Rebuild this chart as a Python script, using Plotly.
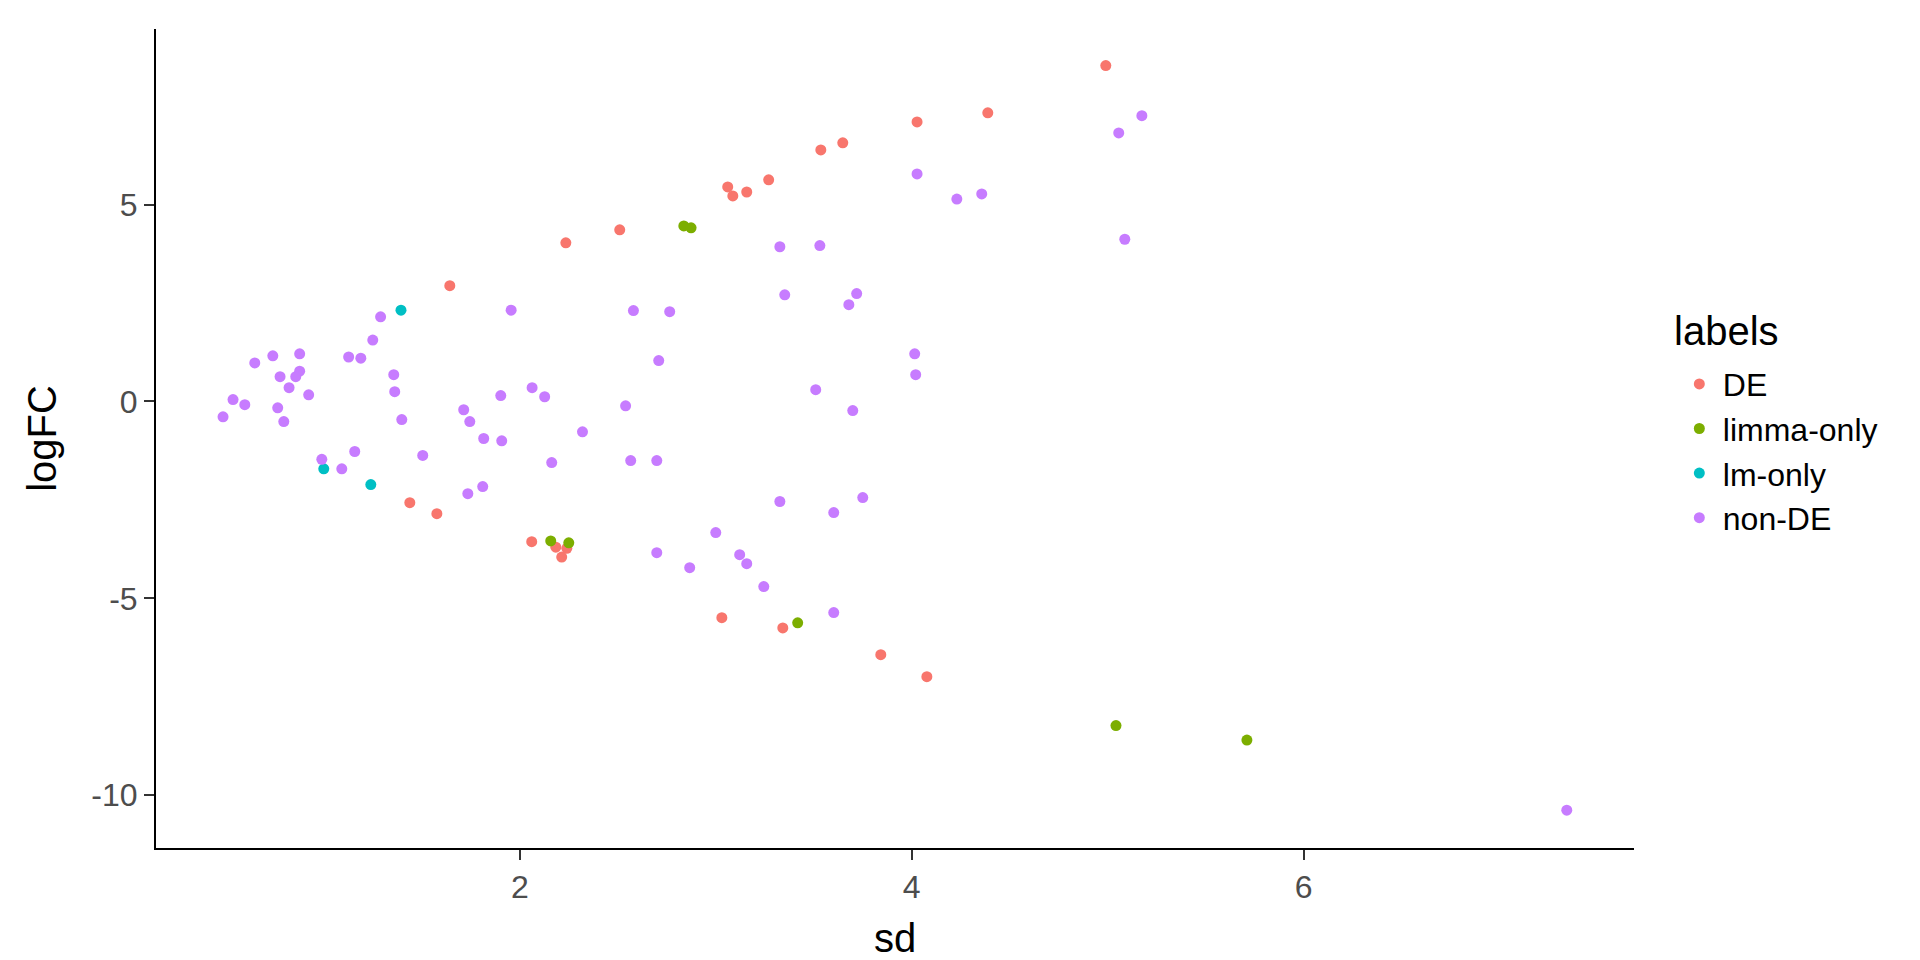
import plotly.graph_objects as go

# ---- data ----
categories = ["DE", "limma-only", "lm-only", "non-DE"]
colors = ["#F8766D", "#7CAE00", "#00BFC4", "#C77CFF"]

de_sd = [2.51, 2.235, 1.643, 4.99, 4.388, 4.027, 3.648, 3.536, 3.27, 3.061, 3.087, 3.158,
         1.439, 1.577, 2.061, 2.184, 2.24, 2.214, 3.031, 3.342, 3.842, 4.077]
de_logfc = [4.36, 4.03, 2.94, 8.53, 7.33, 7.10, 6.57, 6.39, 5.63, 5.45, 5.22, 5.32,
            -2.57, -2.85, -3.56, -3.70, -3.73, -3.95, -5.49, -5.75, -6.43, -6.99]

limma_sd = [2.837, 2.874, 2.158, 2.25, 3.418, 5.042, 5.71]
limma_logfc = [4.46, 4.41, -3.54, -3.59, -5.62, -8.23, -8.60]

lm_sd = [1.394, 1.0, 1.24]
lm_logfc = [2.32, -1.71, -2.11]

non_sd = [1.956, 2.58, 1.29, 1.25, 0.877, 0.74, 0.648, 1.127, 1.189, 0.877, 0.857, 0.777,
          0.823, 0.923, 1.357, 1.362, 1.903, 2.063, 2.127, 2.54, 0.537, 0.597, 0.486, 0.765,
          0.796, 1.398, 1.714, 1.745, 1.816, 1.908, 2.32, 1.158, 0.99, 1.505, 2.566, 1.092,
          2.163, 1.735, 1.811, 4.027, 4.23, 4.357, 3.327, 3.531, 3.352, 3.719, 3.679, 2.765,
          2.709, 4.015, 4.02, 3.51, 3.699, 2.699, 3.327, 3.75, 3.602, 3.0, 2.699, 2.867,
          3.122, 3.158, 3.245, 3.602, 5.056, 5.174, 5.087, 7.342]
non_logfc = [2.32, 2.31, 2.15, 1.56, 1.21, 1.16, 0.98, 1.13, 1.10, 0.77, 0.63, 0.63,
             0.35, 0.17, 0.68, 0.25, 0.15, 0.35, 0.12, -0.11, 0.05, -0.08, -0.39, -0.16,
             -0.51, -0.46, -0.21, -0.51, -0.94, -1.00, -0.77, -1.27, -1.47, -1.37, -1.50, -1.71,
             -1.55, -2.34, -2.16, 5.78, 5.14, 5.27, 3.93, 3.96, 2.71, 2.74, 2.46, 2.28,
             1.04, 1.21, 0.68, 0.30, -0.23, -1.50, -2.54, -2.44, -2.82, -3.33, -3.84, -4.22,
             -3.89, -4.12, -4.70, -5.36, 6.82, 7.26, 4.12, -10.38]

x_ticks = [2, 4, 6]
y_ticks = [-10, -5, 0, 5]
legend_title = "labels"

series = [
    (de_sd, de_logfc),
    (limma_sd, limma_logfc),
    (lm_sd, lm_logfc),
    (non_sd, non_logfc),
]

FONT = "Liberation Sans, Arial, sans-serif"

fig = go.Figure()
for name, col, (xs, ys) in zip(categories, colors, series):
    fig.add_trace(go.Scatter(
        x=xs, y=ys, mode="markers", name=name,
        marker=dict(color=col, size=11, line=dict(width=0)),
    ))

axis_common = dict(
    showgrid=False, zeroline=False, showline=True, linecolor="black", linewidth=2,
    ticks="outside", ticklen=10, tickwidth=2, tickcolor="#333333",
    tickfont=dict(family=FONT, size=32, color="#4D4D4D"),
    mirror=False,
)

fig.update_layout(
    width=1920, height=960,
    paper_bgcolor="white", plot_bgcolor="white",
    margin=dict(l=148, r=294, t=21, b=120),
    font=dict(family=FONT, color="black"),
    xaxis=dict(range=[0.144, 7.685], tickvals=x_ticks, ticktext=[str(v) for v in x_ticks],
               title=dict(text="sd", font=dict(family=FONT, size=40, color="black"), standoff=20),
               **axis_common),
    yaxis=dict(range=[-11.34, 9.46], tickvals=y_ticks, ticktext=[str(v) for v in y_ticks],
               title=dict(text="logFC", font=dict(family=FONT, size=40, color="black"), standoff=22),
               **axis_common),
    legend=dict(
        font=dict(family=FONT, size=32, color="black"),
        x=1.0283, xanchor="left", y=0.6, yanchor="top",
        bgcolor="rgba(0,0,0,0)",
        itemsizing="trace", itemwidth=37,
    ),
    showlegend=True,
    annotations=[dict(
        text=legend_title, xref="paper", yref="paper",
        x=1.0257, y=0.631, xanchor="left", yanchor="middle", showarrow=False,
        font=dict(family=FONT, size=40, color="black"),
    )],
)

fig.write_html("out.html")
